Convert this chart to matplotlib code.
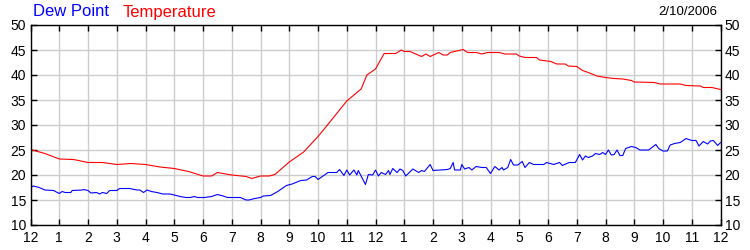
import matplotlib
matplotlib.use("Agg")
import matplotlib.pyplot as plt

# hours after midnight and readings (deg F)
temp_hours = [0, 0.5, 1, 1.5, 2, 2.5, 3, 3.5, 4, 4.5, 5, 5.5, 6, 6.3, 6.5, 7, 7.5, 7.7,
              8, 8.3, 8.5, 9, 9.5, 10, 10.3, 11, 11.5, 11.7, 12, 12.3, 12.7, 12.9, 13,
              13.2, 13.6, 13.75, 13.9, 14.2, 14.35, 14.5, 14.6, 15.05, 15.2, 15.5, 15.7,
              15.9, 16.3, 16.5, 16.9, 17.0, 17.2, 17.6, 17.7, 18.1, 18.3, 18.6, 18.7,
              19.0, 19.2, 19.4, 19.7, 20.0, 20.3, 20.6, 20.9, 21.0, 21.7, 21.9, 22.6,
              22.8, 23.3, 23.4, 23.7, 24.0]
temp_values = [25.1, 24.3, 23.2, 23.1, 22.5, 22.5, 22.1, 22.3, 22.1, 21.6, 21.3, 20.7,
               19.8, 19.8, 20.5, 20.0, 19.7, 19.3, 19.8, 19.8, 20.1, 22.6, 24.6, 27.7,
               29.8, 34.8, 37.2, 40.0, 41.2, 44.3, 44.3, 45.0, 44.7, 44.7, 43.7, 44.2,
               43.7, 44.5, 44.0, 44.0, 44.5, 45.1, 44.5, 44.5, 44.2, 44.5, 44.5, 44.2,
               44.2, 43.8, 43.5, 43.5, 43.0, 42.7, 42.2, 42.2, 41.8, 41.7, 40.9, 40.5,
               39.8, 39.5, 39.3, 39.2, 38.9, 38.6, 38.5, 38.2, 38.2, 37.9, 37.8, 37.5,
               37.5, 37.1]

dew_hours = [0, 0.1, 0.3, 0.5, 0.8, 1.0, 1.1, 1.2, 1.4, 1.45, 1.8, 1.85, 2.0, 2.1, 2.3,
             2.4, 2.5, 2.65, 2.75, 3.0, 3.1, 3.45, 3.7, 3.8, 3.93, 4.05, 4.2, 4.4, 4.6,
             4.85, 5.0, 5.2, 5.4, 5.55, 5.7, 5.8, 6.05, 6.3, 6.5, 6.7, 6.85, 7.3, 7.5,
             7.6, 7.8, 8.0, 8.1, 8.35, 8.6, 8.75, 8.9, 9.1, 9.4, 9.6, 9.8, 9.9, 10.0,
             10.1, 10.35, 10.65, 10.75, 10.9, 11.0, 11.1, 11.25, 11.35, 11.4, 11.65,
             11.75, 11.9, 12.0, 12.1, 12.2, 12.35, 12.45, 12.5, 12.6, 12.75, 12.85,
             12.95, 13.05, 13.3, 13.5, 13.6, 13.7, 13.9, 14.0, 14.5, 14.6, 14.7, 14.75,
             14.95, 15.0, 15.1, 15.25, 15.35, 15.5, 15.7, 15.85, 16.0, 16.15, 16.3,
             16.4, 16.45, 16.6, 16.7, 16.8, 16.95, 17.1, 17.2, 17.35, 17.5, 17.85,
             17.95, 18.2, 18.4, 18.5, 18.65, 18.75, 18.95, 19.1, 19.2, 19.3, 19.4,
             19.55, 19.65, 19.8, 19.9, 20.0, 20.1, 20.2, 20.3, 20.4, 20.5, 20.6, 20.7,
             20.9, 21.05, 21.2, 21.5, 21.75, 21.85, 22.0, 22.15, 22.25, 22.4, 22.6,
             22.8, 23.0, 23.15, 23.25, 23.4, 23.55, 23.65, 23.75, 23.9, 24.0]
dew_values = [17.5, 17.8, 17.5, 17.0, 16.9, 16.3, 16.7, 16.5, 16.5, 16.9, 17.0, 17.1,
              16.9, 16.4, 16.5, 16.2, 16.5, 16.3, 16.9, 16.9, 17.3, 17.3, 17.0, 17.0,
              16.5, 17.0, 16.7, 16.5, 16.2, 16.2, 16.0, 15.7, 15.5, 15.5, 15.7, 15.5,
              15.5, 15.7, 16.1, 15.8, 15.5, 15.5, 15.0, 15.0, 15.3, 15.5, 15.8, 15.9,
              16.7, 17.3, 17.9, 18.2, 18.9, 19.0, 19.7, 19.7, 19.1, 19.5, 20.5, 20.5,
              21.1, 19.9, 21.0, 20.0, 21.0, 20.0, 20.9, 18.1, 20.1, 20.0, 21.0, 19.8,
              20.5, 20.1, 20.9, 20.1, 21.3, 20.5, 21.2, 20.9, 19.8, 21.2, 20.5, 20.9,
              20.7, 22.1, 20.9, 21.1, 21.3, 22.5, 21.0, 21.0, 22.1, 21.2, 21.5, 21.0,
              21.7, 21.5, 21.5, 20.3, 21.7, 21.0, 21.5, 21.0, 21.5, 23.1, 22.0, 22.0,
              22.7, 21.5, 22.5, 22.1, 22.1, 22.5, 22.1, 22.5, 21.9, 22.3, 22.5, 22.5,
              24.1, 23.0, 23.8, 23.5, 23.8, 24.3, 24.1, 24.5, 24.1, 25.0, 24.0, 24.1,
              25.0, 23.9, 23.9, 25.3, 25.7, 25.5, 25.0, 25.0, 26.1, 25.3, 24.8, 24.8,
              26.0, 26.3, 26.5, 27.3, 26.9, 26.9, 25.8, 26.7, 26.2, 26.8, 26.9, 25.9,
              26.5]

hour_labels = ["12", "1", "2", "3", "4", "5", "6", "7", "8", "9", "10", "11",
               "12", "1", "2", "3", "4", "5", "6", "7", "8", "9", "10", "11", "12"]
y_ticks = [10, 15, 20, 25, 30, 35, 40, 45, 50]
date_label = "2/10/2006"

plt.rcParams["font.family"] = ["Liberation Sans", "DejaVu Sans"]

fig = plt.figure(figsize=(7.5, 2.5), dpi=100)
ax = fig.add_axes([0.0407, 0.1, 0.92, 0.8])

ax.plot(temp_hours, temp_values, color="#ff0000", lw=0.8)
ax.plot(dew_hours, dew_values, color="#0000ff", lw=0.8)

ax.set_xlim(0, 24)
ax.set_ylim(10, 50)
ax.set_xticks(range(25))
ax.set_xticklabels(hour_labels)
ax.set_yticks(y_ticks)
ax.grid(True, color="#cccccc", lw=1)
ax.set_axisbelow(True)

ax.tick_params(direction="in", length=4, width=1, labelsize=10, pad=3,
               top=True, right=True, labelright=True)
ax.tick_params(axis="x", pad=4)
for side in ["left", "top", "bottom", "right"]:
    ax.spines[side].set_color("black")
    ax.spines[side].set_linewidth(1.0)

fig.text(0.044, 0.952, "Dew Point", color="#0000ff", fontsize=12, va="center")
fig.text(0.164, 0.952, "Temperature", color="#ff0000", fontsize=12, va="center")
fig.text(0.957, 0.952, date_label, color="black", fontsize=9.5, va="center", ha="right")

fig.savefig("out.png", dpi=100)
